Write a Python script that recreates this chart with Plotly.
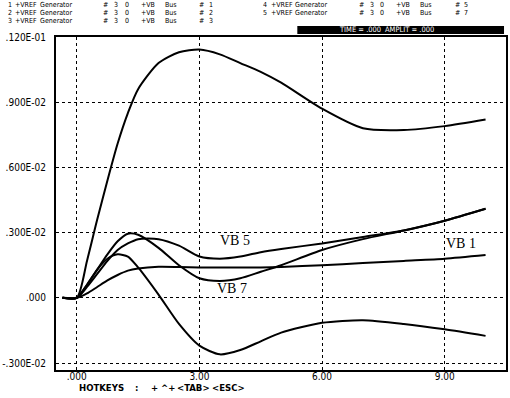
import plotly.graph_objects as go

# ---- data ----
time = [-0.35, 0.0, 0.25, 0.5, 0.75, 1.0, 1.25, 1.5, 2.0, 2.5, 3.0, 3.5, 4.0, 4.5,
        5.0, 6.0, 7.0, 8.0, 9.0, 10.0]
vb_bus2 = [0, 0, 0.0017, 0.0036, 0.0054, 0.0071, 0.0085, 0.0096, 0.0108, 0.0113,
           0.01142, 0.0112, 0.0108, 0.0104, 0.0099, 0.0087, 0.0078, 0.00772, 0.0079, 0.0082]
vb_bus5 = [0, 0, 0.0005, 0.0011, 0.0017, 0.0022, 0.0025, 0.0027, 0.0027, 0.0024,
           0.0019, 0.0018, 0.0019, 0.0021, 0.00225, 0.0025, 0.0028, 0.0031, 0.00355, 0.0041]
vb_bus7 = [0, 0, 0.0006, 0.0013, 0.0020, 0.0026, 0.00295, 0.0029, 0.0023, 0.0015,
           0.0009, 0.00078, 0.0009, 0.0012, 0.0015, 0.0022, 0.0027, 0.0031, 0.00355, 0.0041]
vb_bus1 = [0, 0, 0.0002, 0.0005, 0.0008, 0.00105, 0.00125, 0.00135, 0.00143, 0.00142,
           0.0014, 0.0014, 0.0014, 0.0014, 0.00142, 0.0015, 0.0016, 0.0017, 0.0018, 0.00197]
vb_bus3 = [0, 0, 0.0006, 0.0013, 0.0018, 0.0020, 0.0019, 0.0014, 0.00015, -0.0012,
           -0.0022, -0.0026, -0.0024, -0.0020, -0.0016, -0.00115, -0.00103, -0.0012, -0.00145, -0.00175]

series = [vb_bus2, vb_bus5, vb_bus7, vb_bus1, vb_bus3]

x_ticks = [0, 3, 6, 9]
x_ticktext = [".000", "3.00", "6.00", "9.00"]
y_ticks = [-0.003, 0.0, 0.003, 0.006, 0.009, 0.012]
y_ticktext = ["-.300E-02", ".000", ".300E-02", ".600E-02", ".900E-02", ".120E-01"]

curve_labels = ["VB 5", "VB 1", "VB 7"]
curve_label_x = [3.87, 9.41, 3.8]
curve_label_y = [0.00266, 0.00252, 0.00045]

header_rows = [
    ["1", "+VREF", "Generator", "#", "3", "0", "+VB", "Bus", "#", "1"],
    ["2", "+VREF", "Generator", "#", "3", "0", "+VB", "Bus", "#", "2"],
    ["3", "+VREF", "Generator", "#", "3", "0", "+VB", "Bus", "#", "3"],
]
header_rows_right = [
    ["4", "+VREF", "Generator", "#", "3", "0", "+VB", "Bus", "#", "5"],
    ["5", "+VREF", "Generator", "#", "3", "0", "+VB", "Bus", "#", "7"],
]
status_parts = ["TIME = .000", "AMPLIT = .000"]
hotkeys_parts = ["HOTKEYS", ":", "+", "^+", "<TAB>", "<ESC>"]

# ---- figure ----
W, H = 510, 398
ML, MR, MT, MB = 53, 2, 37, 28
PW, PH = W - ML - MR, H - MT - MB


def px_x(px):
    return (px - ML) / PW


def px_y(py):
    return (H - MB - py) / PH


fig = go.Figure()
for s in series:
    fig.add_trace(go.Scatter(x=time, y=s, mode="lines",
                             line=dict(color="black", width=2, shape="spline", smoothing=0.7),
                             showlegend=False, hoverinfo="skip"))

narrow = "Liberation Sans Narrow, DejaVu Sans Condensed, Arial Narrow, sans-serif"

fig.update_layout(
    width=W, height=H, margin=dict(l=ML, r=MR, t=MT, b=MB),
    paper_bgcolor="white", plot_bgcolor="white",
    xaxis=dict(range=[-0.508, 10.5], tickvals=x_ticks, ticktext=x_ticktext,
               showgrid=True, gridcolor="black", griddash="dot", gridwidth=1,
               zeroline=False, showline=True, linecolor="black", linewidth=2, mirror=True,
               ticks="", ticklabelstandoff=-4,
               tickfont=dict(family=narrow, size=10, color="black")),
    yaxis=dict(range=[-0.00332, 0.012], tickvals=y_ticks, ticktext=y_ticktext,
               showgrid=True, gridcolor="black", griddash="dot", gridwidth=1,
               zeroline=False, showline=True, linecolor="black", linewidth=2, mirror=True,
               ticks="", ticklabelstandoff=6,
               tickfont=dict(family=narrow, size=10, color="black")),
)

annotations = []
for lab, lx, ly in zip(curve_labels, curve_label_x, curve_label_y):
    annotations.append(dict(x=lx, y=ly, xref="x", yref="y", text=lab, showarrow=False,
                            font=dict(family="Liberation Serif, DejaVu Serif, serif", size=14, color="black")))

token_px = [3, 11, 36, 100, 111, 122, 138, 162, 197, 207]
row_py = [5, 13, 21]
small = dict(family=narrow, size=7, color="black")
for r, row in enumerate(header_rows):
    for tok, px in zip(row, token_px):
        annotations.append(dict(x=px_x(px), y=px_y(row_py[r]), xref="paper", yref="paper",
                                xanchor="left", yanchor="middle", text=tok, showarrow=False,
                                borderpad=0, font=small))
for r, row in enumerate(header_rows_right):
    for tok, px in zip(row, token_px):
        annotations.append(dict(x=px_x(px + 258), y=px_y(row_py[r]), xref="paper", yref="paper",
                                xanchor="left", yanchor="middle", text=tok, showarrow=False,
                                borderpad=0, font=small))

for tok, px in zip(status_parts, [338, 385]):
    annotations.append(dict(x=px_x(px), y=px_y(30), xref="paper", yref="paper",
                            xanchor="left", yanchor="middle", text=tok, borderpad=0,
                            showarrow=False, font=dict(family=narrow, size=7.5, color="white")))

for tok, px in zip(hotkeys_parts, [75, 132, 148, 158, 174, 210]):
    annotations.append(dict(x=px_x(px), y=px_y(387), xref="paper", yref="paper",
                            xanchor="left", yanchor="middle", text="<b>" + tok + "</b>", borderpad=0,
                            showarrow=False, font=dict(family=narrow, size=9.5, color="black")))
fig.update_layout(annotations=annotations)

fig.add_shape(type="rect", xref="paper", yref="paper",
              x0=px_x(297), x1=px_x(506), y0=px_y(34), y1=px_y(26),
              fillcolor="black", line=dict(width=0), layer="above")

fig.write_html("out.html")
